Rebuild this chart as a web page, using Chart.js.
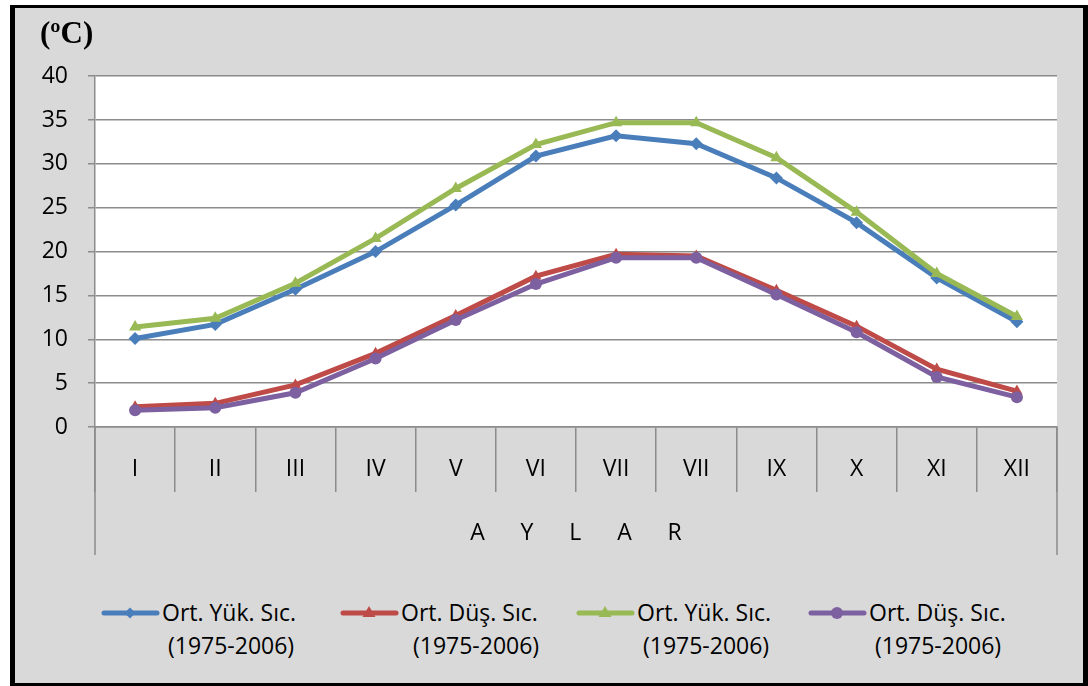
<!DOCTYPE html>
<html>
<head>
<meta charset="utf-8">
<script src="https://cdn.jsdelivr.net/npm/chart.js@4"></script>
<style>
  html, body { margin: 0; padding: 0; background: #fff; }
  #frame {
    position: absolute; left: 10px; top: 5px;
    width: 1068px; height: 675px;
    border: 5px solid #000; border-top-width: 3px; border-bottom-width: 3px;
    background: #d9d9d9;
  }
  #wrap { position: absolute; left: 0; top: 0; width: 1068px; height: 547px; }
  #legend {
    position: absolute; left: 85px; top: 588px; display: flex;
    font: 23px/33px 'Open Sans', 'Noto Sans', sans-serif; color: #000;
  }
  #legend .item { display: flex; align-items: flex-start; }
  #legend canvas { margin-top: 9px; margin-right: 2px; }
  #legend .txt { white-space: pre; }
</style>
</head>
<body>
<div id="frame">
  <div id="wrap"><canvas id="c"></canvas></div>
  <div id="legend"></div>
</div>
<script>
// Monthly mean max / min temperatures, 1975-2006
const months = ["I", "II", "III", "IV", "V", "VI", "VII", "VII", "IX", "X", "XI", "XII"];
const yukA = [10.1, 11.7, 15.7, 20.0, 25.3, 30.9, 33.2, 32.3, 28.4, 23.3, 17.0, 12.0];
const dusA = [2.3, 2.7, 4.8, 8.4, 12.7, 17.2, 19.7, 19.5, 15.6, 11.5, 6.6, 4.1];
const yukB = [11.4, 12.4, 16.4, 21.5, 27.2, 32.2, 34.7, 34.7, 30.7, 24.5, 17.5, 12.6];
const dusB = [1.9, 2.2, 3.9, 7.8, 12.2, 16.3, 19.3, 19.3, 15.1, 10.8, 5.7, 3.4];
const yTicks = [0, 5, 10, 15, 20, 25, 30, 35, 40];
const seriesNames = [
  ["Ort. Yük. Sıc.", " (1975-2006)"],
  ["Ort. Düş. Sıc.", "  (1975-2006)"],
  ["Ort. Yük. Sıc.", " (1975-2006)"],
  ["Ort. Düş. Sıc.", " (1975-2006)"],
];
const legendWidths = [239, 236, 232, 236];
const axisName = "A      Y      L      A      R";

const BLUE = "#4a7ebb", RED = "#be4b48", GREEN = "#98b954", PURPLE = "#7d60a0";
const GRID = "#8c8c8c";
const FONT = "'Open Sans', 'Noto Sans', sans-serif";

const bgPlugin = {
  id: "plotBg",
  beforeDraw(chart) {
    const { ctx, chartArea: a } = chart;
    ctx.save(); ctx.fillStyle = "#fff";
    ctx.fillRect(a.left, a.top, a.right - a.left, a.bottom - a.top);
    ctx.restore();
  },
  beforeDatasetsDraw(chart) {
    // outer frame lines of the two-level category axis
    const { ctx, chartArea: a, scales } = chart;
    const x = scales.x;
    ctx.save(); ctx.strokeStyle = GRID; ctx.lineWidth = 1.5;
    ctx.beginPath();
    ctx.moveTo(a.left, a.bottom); ctx.lineTo(a.left, x.bottom);
    ctx.moveTo(a.right, a.bottom); ctx.lineTo(a.right, x.bottom);
    ctx.stroke(); ctx.restore();
  },
};

const line = (data, color, style, r, order) => ({
  data, borderColor: color, backgroundColor: color, borderWidth: 5,
  pointStyle: style, pointRadius: r, pointHoverRadius: r, pointBorderWidth: 0,
  tension: 0, order,
});

const chart = new Chart(document.getElementById("c"), {
  type: "line",
  data: {
    labels: months,
    datasets: [
      line(yukA, BLUE, "rectRot", 6.5, 4),
      line(dusA, RED, "triangle", 6.5, 3),
      line(yukB, GREEN, "triangle", 7, 2),
      line(dusB, PURPLE, "circle", 6, 1),
    ],
  },
  options: {
    responsive: true, maintainAspectRatio: false, animation: false,
    layout: { padding: { left: 25, right: 26, top: 0, bottom: 0 } },
    plugins: {
      tooltip: { enabled: false },
      legend: { display: false },
      title: {
        display: true, text: "(ºC)", align: "start", color: "#000",
        font: { family: "'Liberation Serif', serif", size: 31, weight: "bold" },
        padding: { top: 8, bottom: 23 },
      },
    },
    scales: {
      x: {
        offset: true,
        grid: { offset: true, drawOnChartArea: false, drawTicks: true, tickLength: 65,
          color: GRID, lineWidth: 1.5 },
        border: { color: GRID, width: 1.5 },
        ticks: { color: "#000", font: { family: FONT, size: 23 }, padding: -36,
          autoSkip: false, maxRotation: 0 },
        title: { display: true, text: axisName, color: "#000",
          font: { family: FONT, size: 23 }, padding: { top: 0, bottom: 8 } },
        afterFit: (s) => { s.height = 128; },
      },
      y: {
        min: 0, max: 40,
        afterBuildTicks: (s) => { s.ticks = yTicks.map((v) => ({ value: v })); },
        grid: { color: GRID, lineWidth: 1.5, tickLength: 7 },
        border: { color: GRID, width: 1.5 },
        ticks: { color: "#000", font: { family: FONT, size: 23 }, padding: 20 },
        afterFit: (s) => { s.width = 55; },
      },
    },
  },
  plugins: [bgPlugin],
});

// html legend: line + marker swatch, two-line label
const shapes = ["diamond", "triangle", "triangle", "circle"];
function swatch(color, shape) {
  const c = document.createElement("canvas");
  c.width = 60; c.height = 16;
  const g = c.getContext("2d");
  g.strokeStyle = color; g.fillStyle = color;
  g.lineWidth = 5; g.lineCap = "round";
  g.beginPath(); g.moveTo(4, 8); g.lineTo(57, 8); g.stroke();
  g.beginPath();
  if (shape === "diamond") { g.moveTo(30, 2.5); g.lineTo(35.5, 8); g.lineTo(30, 13.5); g.lineTo(24.5, 8); }
  else if (shape === "triangle") { g.moveTo(30, 1); g.lineTo(36.5, 12); g.lineTo(23.5, 12); }
  else { g.arc(30, 8, 6, 0, Math.PI * 2); }
  g.closePath(); g.fill();
  return c;
}
const leg = document.getElementById("legend");
chart.data.datasets.forEach((ds, i) => {
  const item = document.createElement("div");
  item.className = "item";
  item.style.width = legendWidths[i] + "px";
  item.appendChild(swatch(ds.borderColor, shapes[i]));
  const t = document.createElement("div");
  t.className = "txt";
  t.textContent = seriesNames[i].join("\n");
  item.appendChild(t);
  leg.appendChild(item);
});
</script>
</body>
</html>
